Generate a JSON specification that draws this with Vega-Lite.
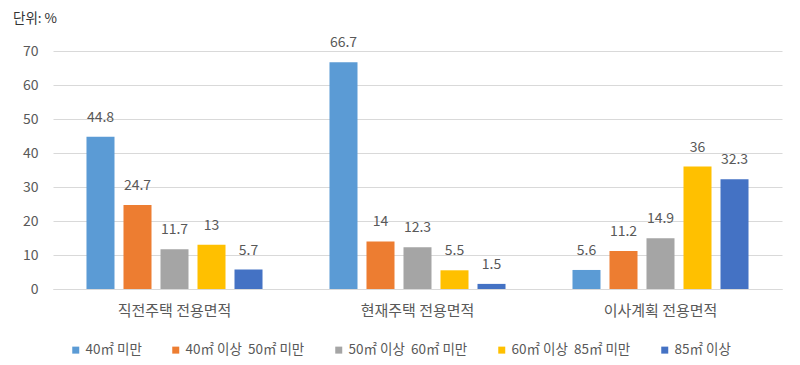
{
  "$schema": "https://vega.github.io/schema/vega-lite/v6.json",
  "width": 729,
  "height": 238,
  "autosize": {"type": "none"},
  "padding": {"left": 53, "top": 51, "right": 18, "bottom": 76},
  "background": "white",
  "config": {
    "font": "Noto Sans CJK KR",
    "view": {"stroke": null}
  },
  "title": {
    "text": "단위: %",
    "anchor": "start",
    "frame": "group",
    "fontSize": 13.5,
    "fontWeight": "normal",
    "color": "#333333",
    "dx": -40,
    "offset": 11
  },
  "data": {
    "values": [
      {"group": "직전주택 전용면적", "size": "40㎡ 미만", "value": 44.8},
      {"group": "직전주택 전용면적", "size": "40㎡ 이상\u00a0 50㎡ 미만", "value": 24.7},
      {"group": "직전주택 전용면적", "size": "50㎡ 이상\u00a0 60㎡ 미만", "value": 11.7},
      {"group": "직전주택 전용면적", "size": "60㎡ 이상\u00a0 85㎡ 미만", "value": 13},
      {"group": "직전주택 전용면적", "size": "85㎡ 이상", "value": 5.7},
      {"group": "현재주택 전용면적", "size": "40㎡ 미만", "value": 66.7},
      {"group": "현재주택 전용면적", "size": "40㎡ 이상\u00a0 50㎡ 미만", "value": 14},
      {"group": "현재주택 전용면적", "size": "50㎡ 이상\u00a0 60㎡ 미만", "value": 12.3},
      {"group": "현재주택 전용면적", "size": "60㎡ 이상\u00a0 85㎡ 미만", "value": 5.5},
      {"group": "현재주택 전용면적", "size": "85㎡ 이상", "value": 1.5},
      {"group": "이사계획 전용면적", "size": "40㎡ 미만", "value": 5.6},
      {"group": "이사계획 전용면적", "size": "40㎡ 이상\u00a0 50㎡ 미만", "value": 11.2},
      {"group": "이사계획 전용면적", "size": "50㎡ 이상\u00a0 60㎡ 미만", "value": 14.9},
      {"group": "이사계획 전용면적", "size": "60㎡ 이상\u00a0 85㎡ 미만", "value": 36},
      {"group": "이사계획 전용면적", "size": "85㎡ 이상", "value": 32.3}
    ]
  },
  "encoding": {
    "x": {
      "field": "group",
      "type": "nominal",
      "sort": null,
      "scale": {"paddingInner": 0, "paddingOuter": 0},
      "axis": {
        "title": null,
        "labelAngle": 0,
        "labelFontSize": 15,
        "labelColor": "#595959",
        "labelPadding": 14,
        "ticks": false,
        "domainColor": "#d9d9d9"
      }
    },
    "xOffset": {
      "field": "size",
      "type": "nominal",
      "sort": null,
      "scale": {"paddingInner": 0.243, "paddingOuter": 0.905}
    },
    "y": {
      "field": "value",
      "type": "quantitative",
      "scale": {"domain": [0, 70]},
      "axis": {
        "title": null,
        "values": [0, 10, 20, 30, 40, 50, 60, 70],
        "domain": false,
        "ticks": false,
        "labelFontSize": 14,
        "labelColor": "#595959",
        "labelPadding": 15,
        "gridColor": "#d9d9d9"
      }
    }
  },
  "layer": [
    {
      "mark": {"type": "bar"},
      "encoding": {
        "color": {
          "field": "size",
          "type": "nominal",
          "sort": null,
          "scale": {
            "domain": ["40㎡ 미만", "40㎡ 이상\u00a0 50㎡ 미만", "50㎡ 이상\u00a0 60㎡ 미만", "60㎡ 이상\u00a0 85㎡ 미만", "85㎡ 이상"],
            "range": ["#5B9BD5", "#ED7D31", "#A5A5A5", "#FFC000", "#4472C4"]
          },
          "legend": {
            "title": null,
            "orient": "none",
            "direction": "horizontal",
            "legendX": 16,
            "legendY": 292,
            "symbolType": "square",
            "symbolSize": 49,
            "labelFontSize": 13.5,
            "labelColor": "#595959",
            "columnPadding": 27,
            "labelOffset": 3,
            "labelLimit": 300
          }
        }
      }
    },
    {
      "mark": {"type": "text", "dy": -19, "fontSize": 14, "color": "#595959"},
      "encoding": {
        "text": {"field": "value", "type": "quantitative"}
      }
    }
  ]
}
